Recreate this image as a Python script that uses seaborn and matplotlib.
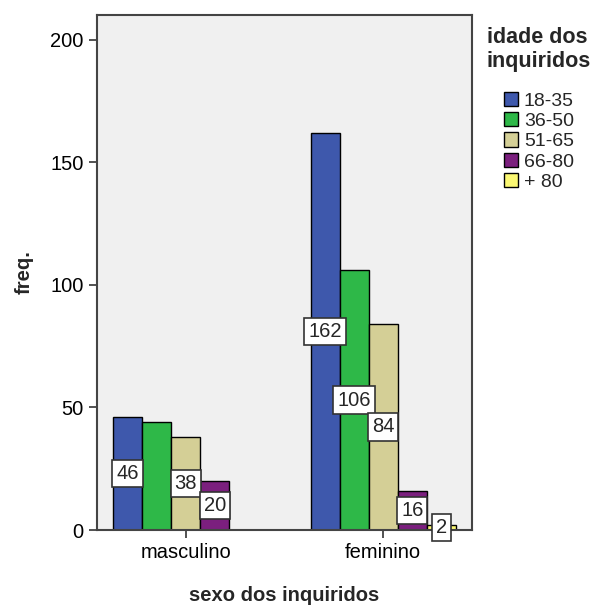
import matplotlib
matplotlib.use("Agg")
import matplotlib.pyplot as plt
import seaborn as sns
import pandas as pd

# data
sexo = ["masculino", "feminino"]
idade = ["18-35", "36-50", "51-65", "66-80", "+ 80"]
freq_masculino = [46, 44, 38, 20, 0]
freq_feminino = [162, 106, 84, 16, 2]
# which bars carry a value label (SPSS hid some of them)
show_masculino = [True, False, True, True, False]
show_feminino = [True, True, True, True, True]

cores = ["#3E58AC", "#2EB848", "#D4CF96", "#7B1F7E", "#FBF873"]

rows = []
for i, g in enumerate(idade):
    rows.append({"sexo": "masculino", "idade": g, "freq": freq_masculino[i]})
    rows.append({"sexo": "feminino", "idade": g, "freq": freq_feminino[i]})
df = pd.DataFrame(rows)

sns.set_style("white")
plt.rcParams["font.family"] = ["Liberation Sans", "DejaVu Sans"]

fig = plt.figure(figsize=(5.93, 6.05), dpi=100)
ax = fig.add_axes([97 / 593, 75 / 605, 375 / 593, 515 / 605])
ax.set_facecolor("#F0F0F0")

sns.barplot(data=df, x="sexo", y="freq", hue="idade", order=sexo, hue_order=idade,
            palette=cores, width=0.736, edgecolor="black", linewidth=1.0,
            saturation=1, ax=ax)

# value labels in white boxes at mid height
for k, cont in enumerate(ax.containers):
    labels = []
    for j, s in enumerate(sexo):
        v = freq_masculino[k] if s == "masculino" else freq_feminino[k]
        show = show_masculino[k] if s == "masculino" else show_feminino[k]
        labels.append(str(v) if show else "")
    ax.bar_label(cont, labels=labels, label_type="center", fontsize=14.5,
                 bbox=dict(boxstyle="square,pad=0.2", fc="white", ec="#333333", lw=1.2))

ax.set_xlim(-0.45, 1.45)
ax.set_ylim(0, 210)
ax.set_yticks([0, 50, 100, 150, 200])
ax.tick_params(axis="both", direction="out", length=6, width=1.2, colors="#333333",
               labelsize=14.5, labelcolor="black")
ax.tick_params(axis="y", left=True)
ax.tick_params(axis="x", bottom=True)

for sp in ax.spines.values():
    sp.set_color("#444444")
    sp.set_linewidth(1.5)

ax.set_xlabel("sexo dos inquiridos", fontsize=14.5, fontweight="bold", labelpad=17)
ax.set_ylabel("freq.", fontsize=14.5, fontweight="bold", labelpad=12)

ax.legend(loc="upper left", bbox_to_anchor=(1.013, 0.995), frameon=False,
          title="idade dos\ninquiridos", title_fontproperties={"weight": "bold", "size": 15.5},
          fontsize=14, handlelength=0.75, handleheight=0.75, handletextpad=0.3,
          labelspacing=0.12, borderaxespad=0.2, borderpad=0.3)
leg = ax.get_legend()
leg._legend_box.sep = 14

fig.savefig("out.png", dpi=100)
